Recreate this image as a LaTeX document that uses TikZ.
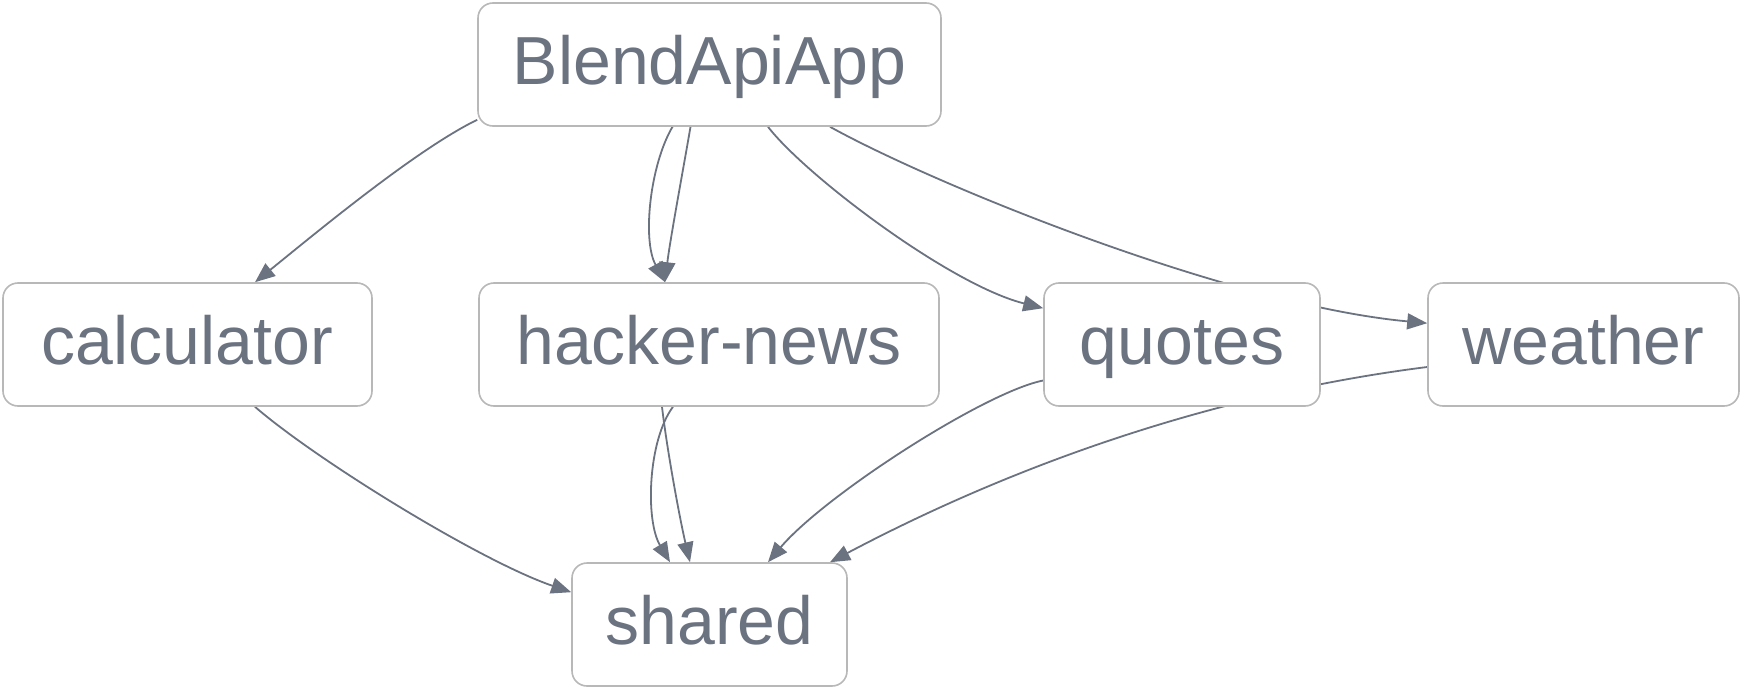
\documentclass[tikz,border=0pt]{standalone}
\usepackage{fontspec}
\setmainfont{Liberation Sans}
\usetikzlibrary{arrows.meta}
\definecolor{txt}{HTML}{6B7280}
\definecolor{bord}{HTML}{B8B8B8}
\pgfdeclarelayer{bg}
\pgfsetlayers{bg,main}
\begin{document}
\begin{tikzpicture}[x=1pt,y=-1pt,
 box/.style={draw=bord, line width=1.6pt, rounded corners=15pt, fill=white, text=txt,
   font=\fontsize{68}{72}\selectfont, minimum height=123pt, text height=40pt, text depth=0pt,
   inner sep=0pt, anchor=center},
 dep/.style={draw=txt, line width=1.8pt, -{Triangle[length=20pt,width=16pt]}}]
\useasboundingbox (0,0) rectangle (1742,690);

\node[box, minimum width=463pt] (blend) at (709.5,64.5) {BlendApiApp};
\node[box, minimum width=369pt] (calc) at (187.5,344.5) {calculator};
\node[box, minimum width=460pt] (hn) at (709,344.5) {hacker-news};
\node[box, minimum width=276pt] (quotes) at (1182,344.5) {quotes};
\node[box, minimum width=311pt] (weather) at (1583.5,344.5) {weather};
\node[box, minimum width=275pt] (shared) at (709.5,624.5) {shared};

\begin{pgfonlayer}{bg}
\draw[dep] ([yshift=7pt]blend.south west) .. controls (417,149) and (317,232) .. ([xshift=67.5pt]calc.north);
\draw[dep] ([xshift=67.5pt]calc.south) .. controls (315,459) and (480,561) .. ([yshift=-30pt]shared.north west);
\draw[dep] ([xshift=-37pt]blend.south) .. controls (650,165) and (642,240) .. ([xshift=-44pt]hn.north);
\draw[dep] ([xshift=-19pt]blend.south) .. controls (684,165) and (670,240) .. ([xshift=-44pt]hn.north);
\draw[dep] ([xshift=-36pt]hn.south) .. controls (648,440) and (645,520) .. ([xshift=-39.5pt]shared.north);
\draw[dep] ([xshift=-47pt]hn.south) .. controls (667,450) and (680,520) .. ([xshift=-19.5pt]shared.north);
\draw[dep] ([xshift=58.5pt]blend.south) .. controls (805,175) and (950,285) .. ([yshift=-26pt]quotes.north west);
\draw[dep] ([xshift=120.5pt]blend.south) .. controls (935,185) and (1230,305) .. ([yshift=-41pt]weather.north west);
\draw[dep] ([yshift=-36pt]quotes.west) .. controls (985,392) and (825,495) .. ([xshift=58.5pt]shared.north);
\draw[dep] ([yshift=-22.5pt]weather.west) .. controls (1229,392) and (1029,457) .. ([xshift=120.5pt]shared.north);
\end{pgfonlayer}
\end{tikzpicture}
\end{document}
